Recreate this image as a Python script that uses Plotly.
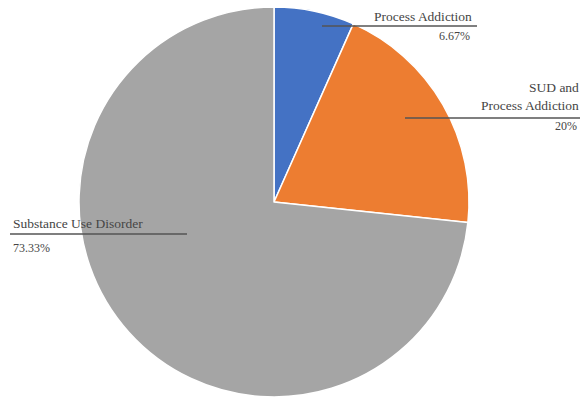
import plotly.graph_objects as go

# Share of cases by addiction type
categories = ["Process Addiction", "SUD and Process Addiction", "Substance Use Disorder"]
shares = [6.67, 20.0, 73.33]
colors = ["#4472C4", "#ED7D31", "#A5A5A5"]

W, H = 580, 399
CX, CY, R = 274, 202, 195


def px(x):
    return x / W


def py(y):
    return 1 - y / H


fig = go.Figure(
    go.Pie(
        labels=categories,
        values=shares,
        sort=False,
        direction="clockwise",
        rotation=0,
        marker=dict(colors=colors, line=dict(color="#FFFFFF", width=1.5)),
        textinfo="none",
        hoverinfo="label+percent",
        showlegend=False,
        domain=dict(x=[px(CX - R), px(CX + R)], y=[py(CY + R), py(CY - R)]),
    )
)


def pct(v):
    return f"{v:g}%"


name_font = dict(family="Liberation Serif, DejaVu Serif, serif", size=13.5, color="#454545")
value_font = dict(name_font, size=12)
line_color = "#555555"

# label blocks: name text, its centre y, value centre y, anchor x,
# leader line (x0, x1, y) and alignment
label_specs = [
    ("Process Addiction", 17, shares[0], 36, 474, (322, 477, 26), "right"),
    ("SUD and<br>Process Addiction", 97, shares[1], 126, 581, (405, 580, 118), "right"),
    ("Substance Use Disorder", 223, shares[2], 248, 11, (10, 187, 234), "left"),
]

annotations = []
shapes = []
for text, ny, val, vy, tx, (lx0, lx1, ly), align in label_specs:
    annotations.append(dict(
        x=px(tx), y=py(ny), xref="paper", yref="paper",
        xanchor=align, yanchor="middle", align=align,
        text=text, showarrow=False, font=name_font,
    ))
    annotations.append(dict(
        x=px(tx - 2 if align == "right" else tx), y=py(vy), xref="paper", yref="paper",
        xanchor=align, yanchor="middle", align=align,
        text=pct(val), showarrow=False, font=value_font,
    ))
    shapes.append(dict(
        type="line", xref="paper", yref="paper",
        x0=px(lx0), x1=px(lx1), y0=py(ly), y1=py(ly),
        line=dict(color=line_color, width=1.3),
    ))

fig.update_layout(
    width=W, height=H,
    margin=dict(l=0, r=0, t=0, b=0),
    paper_bgcolor="white",
    plot_bgcolor="white",
    annotations=annotations,
    shapes=shapes,
)

fig.write_html("out.html")
